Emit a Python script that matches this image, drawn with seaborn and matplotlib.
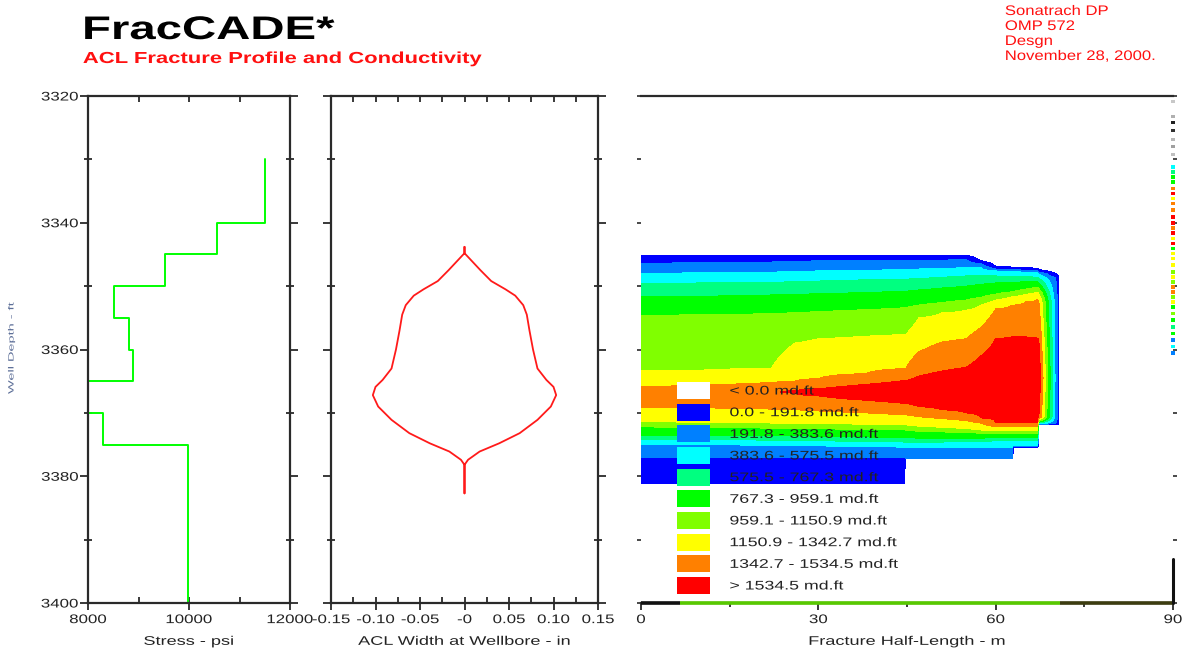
import numpy as np
import pandas as pd
import seaborn as sns
import matplotlib
matplotlib.use("Agg")
import matplotlib.pyplot as plt
from matplotlib.patches import Patch
from matplotlib.patheffects import AbstractPathEffect
from matplotlib.transforms import Affine2D
from matplotlib.ticker import FixedLocator

NaN = np.nan

# ---------------- data ----------------
# Stress profile: layer top / bottom (ft) and closure stress (psi)
layer_top = [3330, 3340, 3345, 3350, 3355, 3360, 3365, 3370, 3375]
layer_bottom = [3340, 3345, 3350, 3355, 3360, 3365, 3370, 3375, 3400]
layer_stress = [11500, 10560, 9525, 8515, 8810, 8885, 7500, 8290, 9990]

# ACL width at wellbore (half width, in) versus depth (ft)
width_depth = [3343.8, 3344.8, 3346.0, 3347.5, 3349.2, 3350.5, 3351.5, 3353.0, 3354.5,
               3357.0, 3360.0, 3363.0, 3364.8, 3365.9, 3367.2, 3369.0, 3371.1, 3373.2,
               3374.8, 3376.1, 3377.4, 3378.2, 3382.7]
half_width = [0.0, 0.0, 0.008, 0.018, 0.030, 0.046, 0.057, 0.066, 0.070,
              0.073, 0.077, 0.082, 0.092, 0.100, 0.103, 0.097, 0.082, 0.062,
              0.039, 0.017, 0.004, 0.0, 0.0]

# Conductivity classes
cond_levels = [0.0, 191.8, 383.6, 575.5, 767.3, 959.1, 1150.9, 1342.7, 1534.5]
band_labels = ["< 0.0 md.ft", "0.0 - 191.8 md.ft", "191.8 - 383.6 md.ft",
               "383.6 - 575.5 md.ft", "575.5 - 767.3 md.ft", "767.3 - 959.1 md.ft",
               "959.1 - 1150.9 md.ft", "1150.9 - 1342.7 md.ft",
               "1342.7 - 1534.5 md.ft", "> 1534.5 md.ft"]
band_colors = ["#FFFFFF", "#0000FF", "#0080FF", "#00FFFF", "#00FF80",
               "#00FF00", "#80FF00", "#FFFF00", "#FF8000", "#FF0000"]

# Conductivity map: band boundary depths (ft) at each half-length station (m)
frac_x = [0, 10, 22, 26, 30, 38, 44.6, 44.8, 47, 51, 55, 57.5, 60, 62.8, 63.0, 65, 67.1, 67.3, 70.6]
frac_top = [3345.1, 3345.1, 3345.1, 3345.1, 3345.1, 3345.1, 3345.1, 3345.1, 3345.1, 3345.1,
            3345.1, 3346.0, 3346.9, 3347.0, 3347.0, 3347.1, 3347.2, 3347.4, 3348.4]
b12 = [3346.4, 3346.3, 3346.2, 3346.1, 3346.0, 3346.0, 3345.9, 3345.9, 3345.9, 3345.9,
       3345.8, 3346.5, 3347.3, 3347.4, 3347.4, 3347.5, 3347.6, 3347.8, 3348.7]
b23 = [3348.0, 3347.9, 3347.8, 3347.7, 3347.6, 3347.5, 3347.4, 3347.4, 3347.3, 3347.2,
       3347.1, 3347.1, 3347.6, 3347.7, 3347.7, 3347.8, 3347.9, 3348.1, 3349.0]
b34 = [3349.6, 3349.5, 3349.4, 3349.3, 3349.2, 3349.0, 3348.9, 3348.9, 3348.8, 3348.6,
       3348.4, 3348.3, 3348.4, 3348.5, 3348.5, 3348.5, 3348.6, 3348.8, 3349.3]
b45 = [3351.7, 3351.6, 3351.4, 3351.3, 3351.2, 3351.0, 3350.8, 3350.8, 3350.6, 3350.3,
       3350.0, 3349.7, 3349.5, 3349.4, 3349.4, 3349.3, 3349.3, 3349.5, 3349.6]
b56 = [3354.6, 3354.5, 3354.3, 3354.2, 3354.0, 3353.7, 3353.4, 3353.4, 3353.0, 3352.6,
       3352.2, 3351.8, 3351.3, 3350.9, 3350.9, 3350.5, 3350.2, 3350.4, 3350.0]
b67 = [3363.3, 3363.3, 3363.0, 3359.0, 3358.3, 3357.9, 3357.6, 3357.6, 3355.0, 3354.2,
       3353.8, 3353.0, 3352.2, 3351.7, 3351.7, 3351.3, 3351.0, 3351.2, 3350.6]
b78 = [3365.9, 3365.6, 3365.2, 3365.0, 3364.6, 3363.8, 3363.0, 3363.0, 3360.4, 3358.8,
       3358.3, 3356.5, 3353.6, 3353.0, 3353.0, 3352.5, 3352.1, 3352.3, 3351.5]
red_top = [NaN, NaN, NaN, 3366.5, 3366.2, 3365.5, 3364.9, 3364.9, 3364.2, 3363.4,
           3362.8, 3361.0, 3358.3, 3358.0, 3358.0, 3358.0, 3358.2, 3358.4, 3358.0]
red_bot = [NaN, NaN, NaN, 3366.9, 3367.3, 3368.0, 3368.5, 3368.5, 3369.0, 3369.5,
           3370.0, 3370.8, 3371.5, 3371.5, 3371.5, 3371.5, 3371.5, 3370.6, 3370.0]
c87 = [3369.1, 3369.2, 3369.4, 3369.5, 3369.7, 3370.0, 3370.3, 3370.3, 3370.6, 3370.9,
       3371.2, 3371.6, 3372.2, 3372.2, 3372.2, 3372.2, 3372.2, 3370.9, 3370.6]
c76 = [3371.4, 3371.5, 3371.6, 3371.6, 3371.7, 3371.8, 3371.9, 3371.9, 3372.1, 3372.3,
       3372.5, 3372.7, 3372.8, 3372.8, 3372.8, 3372.8, 3372.8, 3371.1, 3370.9]
c65 = [3372.2, 3372.3, 3372.4, 3372.4, 3372.5, 3372.6, 3372.7, 3372.7, 3372.9, 3373.0,
       3373.1, 3373.2, 3373.3, 3373.3, 3373.3, 3373.3, 3373.3, 3371.3, 3371.1]
c54 = [3373.5, 3373.5, 3373.6, 3373.6, 3373.7, 3373.8, 3373.9, 3373.9, 3374.0, 3374.0,
       3374.0, 3374.0, 3373.9, 3373.9, 3373.9, 3373.9, 3373.9, 3371.45, 3371.3]
c43 = [3374.2, 3374.2, 3374.3, 3374.3, 3374.4, 3374.5, 3374.6, 3374.6, 3374.6, 3374.6,
       3374.5, 3374.5, 3374.4, 3374.4, 3374.4, 3374.4, 3374.4, 3371.6, 3371.5]
c32 = [3375.0, 3375.0, 3375.1, 3375.1, 3375.2, 3375.3, 3375.4, 3375.4, 3375.4, 3375.4,
       3375.4, 3375.4, 3375.4, 3375.4, 3375.2, 3375.2, 3375.2, 3371.7, 3371.6]
c21 = [3377.0, 3377.0, 3377.0, 3377.0, 3377.0, 3377.0, 3377.0, 3377.15, 3377.15, 3377.15,
       3377.15, 3377.15, 3377.15, 3377.15, 3375.35, 3375.35, 3375.35, 3371.8, 3371.8]
frac_bottom = [3381.1, 3381.1, 3381.1, 3381.1, 3381.1, 3381.1, 3381.1, 3377.2, 3377.2, 3377.2,
               3377.2, 3377.2, 3377.2, 3377.2, 3375.4, 3375.4, 3375.4, 3371.9, 3371.9]
peak_cond = [1450, 1450, 1450, 1700, 1700, 1700, 1700, 1700, 1700, 1700,
             1700, 1700, 1700, 1700, 1700, 1700, 1700, 1680, 1680]
edge_cap = [5000, 5000, 5000, 5000, 5000, 5000, 5000, 5000, 5000, 5000,
            5000, 5000, 5000, 5000, 5000, 5000, 5000, 5000, 120]

# Marks along the right edge (depth ft, band index) and grey marks above them
strip_depth = [3331.15, 3331.94, 3332.73, 3333.52, 3334.57, 3335.36, 3336.15, 3336.94,
               3337.99, 3339.04, 3340.09, 3340.88, 3341.67, 3342.46, 3343.25, 3344.04,
               3344.83, 3345.62, 3346.67, 3347.72, 3348.51, 3349.30, 3350.09, 3350.88,
               3351.67, 3352.46, 3353.25, 3354.30, 3355.35, 3356.40, 3357.45, 3358.50,
               3359.55, 3360.60]
strip_band = [3, 4, 5, 5, 8, 9, 7, 8, 8, 9, 9, 8, 9, 7, 9, 5, 7, 7, 7, 6, 7, 6, 8, 8,
              6, 7, 5, 6, 5, 4, 5, 2, 3, 2]
grey_depth = [3320.9, 3323.2, 3324.2, 3325.5, 3326.8, 3328.0, 3329.3]
grey_color = ["#c8c8c8", "#b0b0b0", "#202020", "#303030", "#b8b8b8", "#a0a0a0", "#c0c0c0"]

# Base line colours along the bottom of the map (half-length breakpoints, m)
base_x = [0, 6.6, 70.9, 90]
base_color = ["#111111", "#58C800", "#3C3C10"]

depth_major = [3320, 3340, 3360, 3380, 3400]
depth_minor = [3330, 3350, 3370, 3390]


# ---------------- helpers ----------------
class Stretch(AbstractPathEffect):
    """Draw text widened along its reading direction (the original uses wide letter spacing)."""
    def __init__(self, s, anchor="left", axis="x"):
        super().__init__()
        self.s = s
        self.anchor = anchor
        self.axis = axis

    def draw_path(self, renderer, gc, tpath, affine, rgbFace=None):
        ext = tpath.get_extents(affine)
        if self.axis == "x":
            if self.anchor == "left":
                x0 = ext.x0
            elif self.anchor == "right":
                x0 = ext.x1
            else:
                x0 = 0.5 * (ext.x0 + ext.x1)
            extra = Affine2D().translate(-x0, 0).scale(self.s, 1.0).translate(x0, 0)
        else:
            y0 = 0.5 * (ext.y0 + ext.y1)
            extra = Affine2D().translate(0, -y0).scale(1.0, self.s).translate(0, y0)
        renderer.draw_path(gc, tpath, affine + extra, rgbFace)


sns.set_theme(style="white")
plt.rcParams["font.family"] = ["Liberation Sans", "DejaVu Sans"]

W, H = 1192, 653
spine_c = "#2a2a2a"
text_c = "#222222"

fig = plt.figure(figsize=(W / 100, H / 100), dpi=100)
fig.patch.set_facecolor("white")


def rect(x0, x1, y0=96, y1=603):
    return [x0 / W, 1 - y1 / H, (x1 - x0) / W, (y1 - y0) / H]


ax1 = fig.add_axes(rect(88, 290))
ax2 = fig.add_axes(rect(331, 598))
ax3 = fig.add_axes(rect(641, 1173))

# ---------------- panel 1: stress ----------------
st_x, st_y = [], []
for t, b, s in zip(layer_top, layer_bottom, layer_stress):
    st_x += [s, s]
    st_y += [t, b]
stress_df = pd.DataFrame({"stress": st_x, "depth": st_y})
sns.lineplot(data=stress_df, x="stress", y="depth", sort=False, estimator=None,
             color="#00FF00", lw=1.4, ax=ax1)

# ---------------- panel 2: width ----------------
w_x = [-w for w in half_width] + [w for w in half_width[::-1]]
w_y = list(width_depth) + list(width_depth[::-1])
width_df = pd.DataFrame({"width": w_x, "depth": w_y})
sns.lineplot(data=width_df, x="width", y="depth", sort=False, estimator=None,
             color="#FF1A1A", lw=1.3, ax=ax2)

# ---------------- panel 3: conductivity map ----------------
L = cond_levels
depth_grid = np.arange(3343.0, 3383.0, 0.05)
Z = np.zeros((depth_grid.size, len(frac_x)))
K = 150.0
for j in range(len(frac_x)):
    upper = [frac_top[j], b12[j], b23[j], b34[j], b45[j], b56[j], b67[j], b78[j]]
    lower = [c87[j], c76[j], c65[j], c54[j], c43[j], c32[j], c21[j], frac_bottom[j]]
    if np.isnan(red_top[j]):
        mid_xp = [(b78[j] + c87[j]) / 2]
        mid_fp = [peak_cond[j]]
    else:
        mid_xp = [red_top[j], (red_top[j] + red_bot[j]) / 2, red_bot[j]]
        mid_fp = [L[8], peak_cond[j], L[8]]
    xp = upper + mid_xp + lower
    fp = L[0:8] + mid_fp + L[7::-1]
    z = np.interp(depth_grid, xp, fp)
    above = depth_grid < frac_top[j]
    below = depth_grid > frac_bottom[j]
    z[above] = K * (depth_grid[above] - frac_top[j])
    z[below] = K * (frac_bottom[j] - depth_grid[below])
    Z[:, j] = np.minimum(z, edge_cap[j])

ax3.contourf(frac_x, depth_grid, Z, levels=cond_levels + [5000.0],
             colors=band_colors[1:], antialiased=False, zorder=1)

ax3.scatter([90] * len(strip_depth), strip_depth,
            c=[band_colors[b] for b in strip_band], marker="s", s=7,
            linewidths=0, clip_on=False, zorder=6)
ax3.scatter([90] * len(grey_depth), grey_depth, c=grey_color, marker="s", s=5,
            linewidths=0, clip_on=False, zorder=6)
for i in range(len(base_color)):
    ax3.plot([base_x[i], base_x[i + 1]], [3400, 3400], color=base_color[i], lw=2.6,
             solid_capstyle="butt", clip_on=False, zorder=7)
ax3.plot([90, 90], [3393, 3400], color="#111111", lw=2.2, clip_on=False, zorder=7)

handles = [Patch(facecolor=c, edgecolor="none") for c in band_colors]
leg = ax3.legend(handles, band_labels, loc="upper left", bbox_to_anchor=(0.068, 0.436),
                 frameon=False, fontsize=9, handlelength=2.6, handleheight=1.72,
                 labelspacing=0.37, handletextpad=1.6, borderpad=0, borderaxespad=0)
for t in leg.get_texts():
    t.set_color(text_c)
    t.set_path_effects([Stretch(1.42, "left")])

# ---------------- axes styling ----------------
for ax in (ax1, ax2, ax3):
    ax.set_facecolor("white")
    ax.set_ylim(3400, 3320)
    ax.set_ylabel("")
    ax.yaxis.set_major_locator(FixedLocator(depth_major))
    ax.yaxis.set_minor_locator(FixedLocator(depth_minor))
    for s in ax.spines.values():
        s.set_color(spine_c)
        s.set_linewidth(1.6)

for ax in (ax1, ax2):
    ax.tick_params(axis="y", which="major", left=True, right=True, direction="out",
                   length=6, width=1.3, color=spine_c, labelsize=9, labelcolor=text_c, pad=1)
    ax.tick_params(axis="y", which="minor", left=True, right=True, direction="inout",
                   length=6, width=1.3, color=spine_c)
ax2.tick_params(axis="y", labelleft=False)
ax3.tick_params(axis="y", which="both", left=True, right=True, direction="out",
                length=3, width=1.2, color=spine_c, labelleft=False)
ax3.spines["left"].set_visible(False)
ax3.spines["right"].set_visible(False)

# x axis, panel 1
ax1.set_xlim(8000, 12000)
ax1.xaxis.set_major_locator(FixedLocator([8000, 10000, 12000]))
ax1.xaxis.set_minor_locator(FixedLocator([9000, 10000, 11000]))
ax1.xaxis.remove_overlapping_locs = False
ax1.set_xticklabels(["8000", "10000", "12000"])

# x axis, panel 2
ax2.set_xlim(-0.15, 0.15)
ax2.xaxis.set_major_locator(FixedLocator([-0.15, -0.10, -0.05, 0.0, 0.05, 0.10, 0.15]))
ax2.xaxis.set_minor_locator(FixedLocator([-0.125, -0.1, -0.075, -0.05, -0.025, 0.0,
                                          0.025, 0.05, 0.075, 0.1, 0.125]))
ax2.xaxis.remove_overlapping_locs = False
ax2.set_xticklabels(["-0.15", "-0.10", "-0.05", "-0", "0.05", "0.10", "0.15"])

for ax in (ax1, ax2):
    ax.tick_params(axis="x", which="major", bottom=True, top=False, direction="out",
                   length=5, width=1.3, color=spine_c, labelsize=9, labelcolor=text_c, pad=3)
    ax.tick_params(axis="x", which="minor", bottom=True, top=True, direction="in",
                   length=4, width=1.3, color=spine_c)

# x axis, panel 3
ax3.set_xlim(0, 90)
ax3.xaxis.set_major_locator(FixedLocator([0, 30, 60, 90]))
ax3.xaxis.set_minor_locator(FixedLocator([15, 45, 75]))
ax3.set_xticklabels(["0", "30", "60", "90"])
ax3.tick_params(axis="x", which="major", bottom=True, top=False, direction="out",
                length=5, width=1.3, color=spine_c, labelsize=9, labelcolor=text_c, pad=3)
ax3.tick_params(axis="x", which="minor", bottom=True, top=False, direction="out",
                length=3, width=1.3, color=spine_c)

ax1.set_xlabel("Stress - psi", fontsize=9, color=text_c, labelpad=7)
ax2.set_xlabel("ACL Width at Wellbore - in", fontsize=9, color=text_c, labelpad=7)
ax3.set_xlabel("Fracture Half-Length - m", fontsize=9, color=text_c, labelpad=7)

for ax in (ax1, ax2, ax3):
    for lab in ax.get_xticklabels():
        lab.set_path_effects([Stretch(1.35, "center")])
    for lab in ax.get_yticklabels():
        lab.set_path_effects([Stretch(1.35, "right")])
    ax.xaxis.label.set_path_effects([Stretch(1.45, "center")])

# ---------------- header texts ----------------
fig.text(83 / W, 1 - 39 / H, "FracCADE*", fontsize=23.5, weight="bold", color="black",
         ha="left", va="baseline", path_effects=[Stretch(1.45, "left")])
fig.text(83 / W, 1 - 63 / H, "ACL Fracture Profile and Conductivity", fontsize=11.5,
         weight="bold", color="#FF1010", ha="left", va="baseline",
         path_effects=[Stretch(1.38, "left")])
for i, line in enumerate(["Sonatrach DP", "OMP 572", "Desgn", "November 28, 2000."]):
    fig.text(1005 / W, 1 - (15 + 15 * i) / H, line, fontsize=10, color="#FF1010",
             ha="left", va="baseline", path_effects=[Stretch(1.2, "left")])
fig.text(12 / W, 1 - 348 / H, "Well Depth - ft", fontsize=5.5, color="#5d6f98",
         rotation=90, ha="center", va="center",
         path_effects=[Stretch(1.9, "center", axis="y")])

fig.savefig("out.png", dpi=100, facecolor="white")
